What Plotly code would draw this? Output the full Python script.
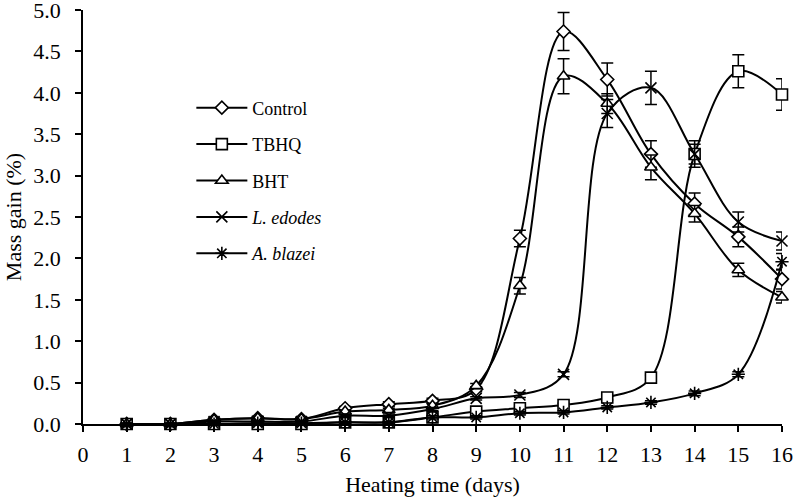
import plotly.graph_objects as go

days = list(range(1, 17))

control = [0, 0, 0.05, 0.07, 0.06, 0.19, 0.24, 0.28, 0.42, 2.24, 4.74, 4.16, 3.26, 2.66, 2.26, 1.75]
control_err = [0.01, 0.01, 0.02, 0.02, 0.02, 0.02, 0.03, 0.03, 0.03, 0.10, 0.23, 0.20, 0.16, 0.13, 0.12, 0.12]

tbhq = [0, 0, 0, 0, 0, 0.02, 0.02, 0.08, 0.15, 0.19, 0.23, 0.32, 0.56, 3.26, 4.26, 3.98]
tbhq_err = [0.01, 0.01, 0.01, 0.01, 0.01, 0.01, 0.01, 0.02, 0.02, 0.02, 0.02, 0.03, 0.03, 0.16, 0.20, 0.19]

bht = [0, 0, 0.05, 0.07, 0.06, 0.15, 0.17, 0.22, 0.46, 1.67, 4.20, 3.87, 3.10, 2.54, 1.86, 1.53]
bht_err = [0.01, 0.01, 0.02, 0.02, 0.02, 0.02, 0.02, 0.03, 0.03, 0.10, 0.21, 0.12, 0.15, 0.10, 0.08, 0.07]

l_edodes = [0, 0, 0.03, 0.03, 0.03, 0.10, 0.10, 0.18, 0.31, 0.35, 0.60, 3.75, 4.06, 3.26, 2.44, 2.21]
l_edodes_err = [0.01, 0.01, 0.01, 0.01, 0.01, 0.02, 0.02, 0.02, 0.02, 0.03, 0.03, 0.17, 0.20, 0.12, 0.12, 0.11]

a_blazei = [0, 0, 0, 0.01, 0.01, 0.02, 0.02, 0.08, 0.08, 0.13, 0.14, 0.20, 0.26, 0.37, 0.60, 1.96]
a_blazei_err = [0.01, 0.01, 0.01, 0.01, 0.01, 0.01, 0.01, 0.02, 0.02, 0.02, 0.02, 0.02, 0.02, 0.03, 0.03, 0.10]

x_ticks = list(range(0, 17))
y_ticks = [0.0, 0.5, 1.0, 1.5, 2.0, 2.5, 3.0, 3.5, 4.0, 4.5, 5.0]

series = [
    ("Control", control, control_err, "diamond", 10),
    ("TBHQ", tbhq, tbhq_err, "square", 11),
    ("BHT", bht, bht_err, "triangle-up", 11),
    ("<i>L. edodes</i>", l_edodes, l_edodes_err, "x-thin", 11),
    ("<i>A. blazei</i>", a_blazei, a_blazei_err, "asterisk", 11),
]

FONT = "Liberation Serif"

fig = go.Figure()
for i, (name, vals, errs, sym, size) in enumerate(series):
    fig.add_trace(go.Scatter(
        x=days, y=vals, name=name, mode="lines+markers",
        legendgroup=f"g{i}",
        line=dict(color="black", width=2, shape="spline", smoothing=1.0),
        marker=dict(symbol=sym, size=size, color="white",
                    line=dict(color="black", width=1.6)),
        error_y=dict(type="data", array=errs, visible=True, color="black",
                     thickness=1.5, width=6),
        cliponaxis=False,
    ))

fig.update_layout(
    width=793, height=497,
    margin=dict(l=83, r=11, t=10, b=73),
    paper_bgcolor="white", plot_bgcolor="white",
    font=dict(family=FONT, size=20, color="black"),
    showlegend=True,
    legend=dict(x=0.155, y=0.808, xanchor="left", yanchor="top",
                font=dict(family=FONT, size=18, color="black"),
                bgcolor="rgba(0,0,0,0)", traceorder="grouped",
                tracegroupgap=10, itemwidth=51),
)
fig.update_xaxes(
    range=[0, 16], tickvals=x_ticks, ticktext=[str(v) for v in x_ticks],
    ticks="outside", ticklen=6, tickwidth=1.5, tickcolor="black",
    showline=True, linecolor="black", linewidth=1.5, showgrid=False, zeroline=False,
    title=dict(text="Heating time (days)", font=dict(family=FONT, size=22), standoff=10),
    tickfont=dict(family=FONT, size=22), ticklabelstandoff=4, automargin=False,
    ticklabeloverflow="allow",
)
fig.update_yaxes(
    range=[0, 5], tickvals=y_ticks, ticktext=[f"{v:.1f}" for v in y_ticks],
    ticks="outside", ticklen=6, tickwidth=1.5, tickcolor="black",
    showline=True, linecolor="black", linewidth=1.5, showgrid=False, zeroline=False,
    title=dict(text="Mass gain (%)", font=dict(family=FONT, size=22), standoff=6),
    tickfont=dict(family=FONT, size=22), ticklabelstandoff=10, automargin=False,
    ticklabeloverflow="allow",
)

# remove the browser's default 8px page margin so the 793x497 figure fills the window
fig.write_html("out.html", config={"displayModeBar": False},
               post_script="document.body.style.margin='0';")
